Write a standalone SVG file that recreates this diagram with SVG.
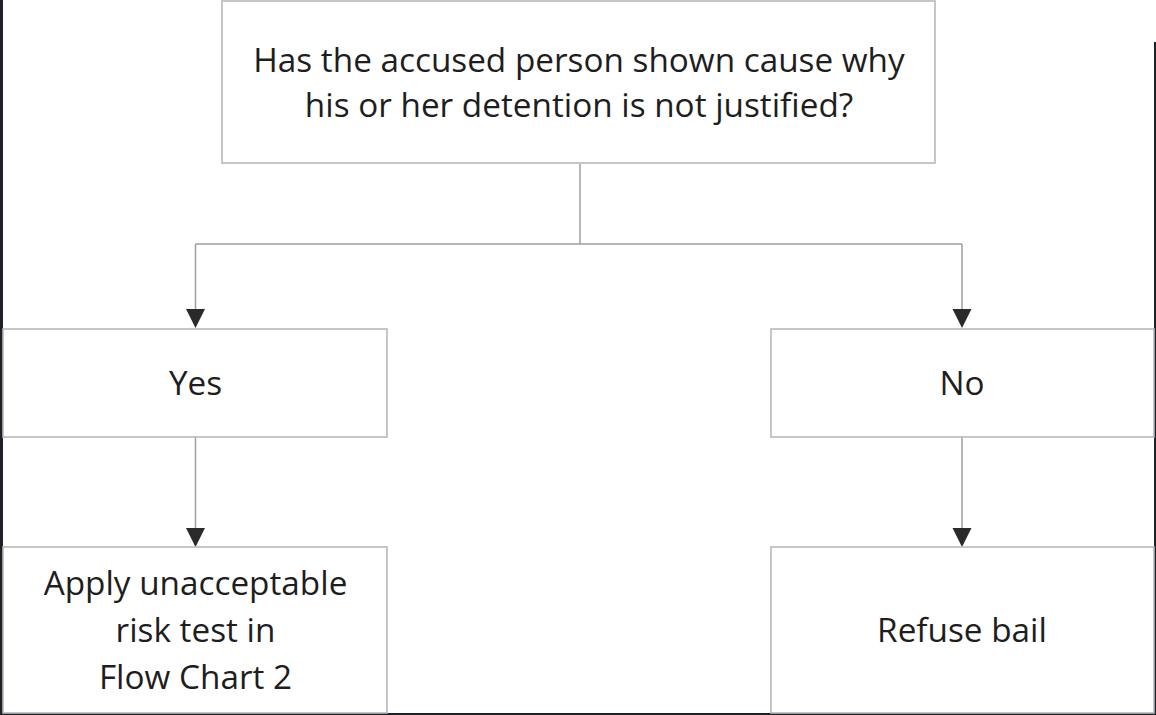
<svg xmlns="http://www.w3.org/2000/svg" width="1156" height="715" viewBox="0 0 1156 715">
<style>
.box{fill:#fff;stroke:#b8b8b8;stroke-width:1.6}
.t{font-family:"Open Sans","Noto Sans",sans-serif;font-size:33.3px;fill:#1e1e1e;text-anchor:middle}
.ln{fill:none;stroke:#9e9e9e;stroke-width:1.5}
.ah{fill:#2a2a2a}
</style>
<rect width="1156" height="715" fill="#fff"/>
<rect x="0" y="0" width="3" height="715" fill="#1f2128"/>
<rect x="1154" y="42" width="2" height="673" fill="#1f2128"/>
<rect x="0" y="713" width="1156" height="2" fill="#1f2128"/>
<g id="connectors">
<path class="ln" d="M580 164V244M195.5 244H962M195.5 244V312M962 244V312M195.5 437V530M962 437V530"/>
<polygon class="ah" points="186,309 205,309 195.5,328"/>
<polygon class="ah" points="952.5,309 971.5,309 962,328"/>
<polygon class="ah" points="186,528 205,528 195.5,547"/>
<polygon class="ah" points="952.5,528 971.5,528 962,547"/>
</g>
<g id="question">
<rect class="box" x="222" y="1" width="713" height="162"/>
<text class="t" x="579" y="72">Has the accused person shown cause why</text>
<text class="t" x="579" y="117">his or her detention is not justified?</text>
</g>
<g id="yes">
<rect class="box" x="3" y="329" width="384" height="108"/>
<text class="t" x="195.5" y="395">Yes</text>
</g>
<g id="no">
<rect class="box" x="771" y="329" width="383" height="108"/>
<text class="t" x="962" y="395">No</text>
</g>
<g id="apply">
<rect class="box" x="3" y="547" width="384" height="166"/>
<text class="t" x="195.5" y="595">Apply unacceptable</text>
<text class="t" x="195.5" y="642">risk test in</text>
<text class="t" x="195.5" y="689">Flow Chart 2</text>
</g>
<g id="refuse">
<rect class="box" x="771" y="547" width="383" height="166"/>
<text class="t" x="962" y="642">Refuse bail</text>
</g>
</svg>
